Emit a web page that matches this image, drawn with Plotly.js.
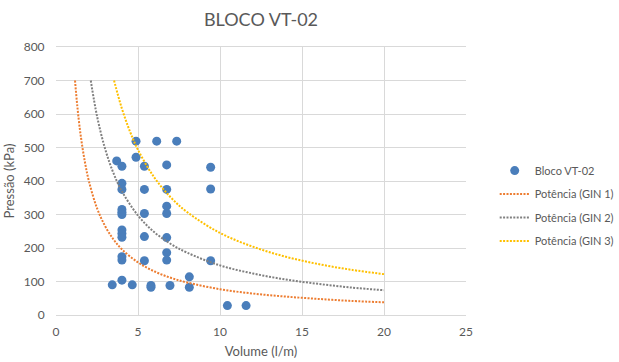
<!DOCTYPE html>
<html>
<head>
<meta charset="utf-8">
<script src="https://cdn.plot.ly/plotly-3.0.1.min.js"></script>
<style>html,body{margin:0;padding:0;background:#fff;}#chart{width:619px;height:362px;}</style>
</head>
<body>
<div id="chart"></div>
<script>
// Measured points (Volume l/m, Pressão kPa)
const blocoX = [4.88, 6.14, 7.36, 3.70, 4.88, 4.02, 5.39, 6.75, 9.43, 4.02, 4.02, 5.39, 6.75, 9.43, 4.02, 4.02, 4.02, 5.39, 6.75, 6.75, 4.02, 4.02, 4.02, 5.39, 6.75, 4.02, 4.02, 5.39, 6.75, 6.75, 9.43, 8.13, 3.43, 4.02, 4.65, 5.79, 5.79, 6.95, 8.13, 10.45, 11.59];
const blocoY = [519, 519, 519, 460, 471, 444, 444, 448, 441, 393, 375, 375, 375, 376, 315, 307, 300, 303, 325, 303, 254, 243, 232, 234, 231, 174, 164, 162, 186, 164, 162, 114, 90, 104, 90, 88, 83, 88, 83, 28, 28];

// GIN curves
const gin1X = [1.16, 1.3, 1.5, 1.75, 2, 2.5, 3, 3.5, 4, 5, 6, 7, 8, 10, 12, 14, 16, 18, 20];
const gin1Y = [700, 623, 538, 460, 401, 319, 265, 226, 197, 157, 130, 111, 97, 77, 64, 55, 48, 42, 38];
const gin2X = [2.12, 2.5, 3, 3.5, 4, 5, 6, 7, 8, 10, 12, 14, 16, 18, 20];
const gin2Y = [700, 594, 495, 424, 371, 297, 247, 212, 186, 148, 124, 106, 93, 82, 74];
const gin3X = [3.54, 4, 4.5, 5, 6, 7, 8, 10, 12, 14, 16, 18, 20];
const gin3Y = [700, 619, 549, 493, 410, 351, 307, 245, 204, 174, 152, 135, 122];

const names = ['Bloco VT-02', 'Potência (GIN 1)', 'Potência (GIN 2)', 'Potência (GIN 3)'];
const xTicks = [0, 5, 10, 15, 20, 25];
const yTicks = [0, 100, 200, 300, 400, 500, 600, 700, 800];

const FONT = 'Lato, "Open Sans", sans-serif';
const GREY = '#595959';

function curve(x, y, name, color, grp) {
  return {x: x, y: y, name: name, type: 'scatter', mode: 'lines', legendgroup: grp,
    line: {color: color, width: 2, dash: '2px,1.4px', shape: 'spline'}, hoverinfo: 'skip'};
}

const data = [
  {x: blocoX, y: blocoY, name: names[0], type: 'scatter', mode: 'markers', legendgroup: 'a',
   marker: {color: '#4a7ebb', size: 9}},
  curve(gin1X, gin1Y, names[1], '#ED7D31', 'b'),
  curve(gin2X, gin2Y, names[2], '#808080', 'c'),
  curve(gin3X, gin3Y, names[3], '#FFC000', 'd')
];

const layout = {
  width: 619, height: 362,
  margin: {l: 56, r: 153, t: 47, b: 47, autoexpand: false},
  paper_bgcolor: '#ffffff', plot_bgcolor: '#ffffff',
  font: {family: FONT, color: GREY, size: 12},
  title: {text: 'BLOCO VT-02', font: {size: 18, color: GREY, family: FONT}, x: 0.5, xref: 'paper', xanchor: 'center', y: 0.945, yanchor: 'middle'},
  xaxis: {
    range: [0, 25], tickvals: xTicks, ticktext: xTicks.map(String),
    showgrid: true, gridcolor: '#d9d9d9', gridwidth: 1,
    zeroline: false, showline: true, linecolor: '#d9d9d9', linewidth: 1, mirror: true,
    ticks: 'outside', ticklen: 6, tickcolor: 'rgba(0,0,0,0)',
    tickfont: {size: 12, color: GREY},
    title: {text: 'Volume (l/m)', font: {size: 13, color: GREY}, standoff: 8}
  },
  yaxis: {
    range: [0, 800], tickvals: yTicks, ticktext: yTicks.map(String),
    showgrid: true, gridcolor: '#d9d9d9', gridwidth: 1,
    zeroline: false, showline: false,
    ticks: 'outside', ticklen: 8, tickcolor: 'rgba(0,0,0,0)',
    tickfont: {size: 12, color: GREY},
    title: {text: 'Pressão (kPa)', font: {size: 13, color: GREY}, standoff: 6}
  },
  showlegend: true,
  legend: {x: 1.07, xanchor: 'left', y: 0.593, yanchor: 'top', tracegroupgap: 4.5,
    font: {size: 11, color: GREY}, bgcolor: 'rgba(0,0,0,0)', borderwidth: 0, traceorder: 'grouped'}
};

Plotly.newPlot('chart', data, layout, {displayModeBar: false, staticPlot: true});
</script>
</body>
</html>
